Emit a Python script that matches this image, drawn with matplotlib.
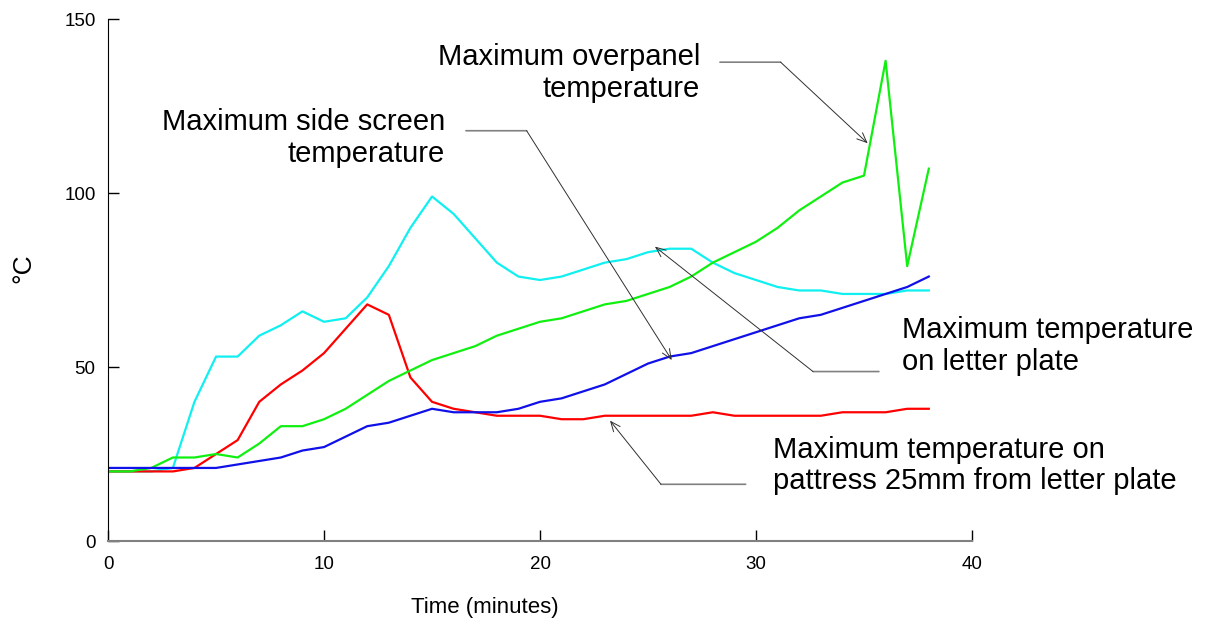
import matplotlib
matplotlib.use("Agg")
import matplotlib.pyplot as plt

plt.rcParams["font.family"] = ["Liberation Sans", "DejaVu Sans"]

minutes = list(range(39))

side_screen = [20, 20, 20, 21, 40, 53, 53, 59, 62, 66, 63, 64, 70, 79, 90,
               99, 94, 87, 80, 76, 75, 76, 78, 80, 81, 83, 84, 84, 80, 77,
               75, 73, 72, 72, 71, 71, 71, 72, 72]
pattress = [20, 20, 20, 20, 21, 25, 29, 40, 45, 49, 54, 61, 68, 65, 47,
            40, 38, 37, 36, 36, 36, 35, 35, 36, 36, 36, 36, 36, 37, 36,
            36, 36, 36, 36, 37, 37, 37, 38, 38]
overpanel = [20, 20, 21, 24, 24, 25, 24, 28, 33, 33, 35, 38, 42, 46, 49,
             52, 54, 56, 59, 61, 63, 64, 66, 68, 69, 71, 73, 76, 80, 83,
             86, 90, 95, 99, 103, 105, 138, 79, 107]
letter_plate = [21, 21, 21, 21, 21, 21, 22, 23, 24, 26, 27, 30, 33, 34, 36,
                38, 37, 37, 37, 38, 40, 41, 43, 45, 48, 51, 53, 54, 56, 58,
                60, 62, 64, 65, 67, 69, 71, 73, 76]

x_ticks = [0, 10, 20, 30, 40]
y_ticks = [0, 50, 100, 150]

# label text, text anchor, alignment, line start, corner, arrow tip
labels = [
    ("Maximum overpanel\ntemperature", (27.41, 134.5), "right",
     (28.33, 137.6), (31.14, 137.6), (35.17, 114.3)),
    ("Maximum side screen\ntemperature", (15.6, 115.8), "right",
     (16.57, 117.9), (19.38, 117.9), (26.1, 52.0)),
    ("Maximum temperature\non letter plate", (36.76, 56.0), "left",
     (35.69, 48.7), (32.64, 48.7), (25.32, 84.6)),
    ("Maximum temperature on\npattress 25mm from letter plate", (30.79, 21.8),
     "left", (29.52, 16.3), (25.6, 16.3), (23.24, 34.6)),
]


def main():
    fig = plt.figure(figsize=(12.1, 6.28), dpi=100)
    ax = fig.add_axes([0.0893, 0.1385, 0.714, 0.8312])

    ax.plot(minutes, side_screen, color="#10f0f0", lw=1.6)
    ax.plot(minutes, pattress, color="#ff0000", lw=1.6)
    ax.plot(minutes, overpanel, color="#10f010", lw=1.6)
    ax.plot(minutes, letter_plate, color="#1010e8", lw=1.6)

    for text, pos, ha, start, corner, tip in labels:
        ax.text(pos[0], pos[1], text, ha=ha, va="center", fontsize=21,
                multialignment=ha, linespacing=1.15)
        ax.annotate("", xy=corner, xytext=start,
                    arrowprops=dict(arrowstyle="-", color="#808080", lw=1.2,
                                    shrinkA=0, shrinkB=0))
        ax.annotate("", xy=tip, xytext=corner,
                    arrowprops=dict(arrowstyle="->,head_length=0.7,head_width=0.3",
                                    color="#303030", lw=0.7,
                                    shrinkA=0, shrinkB=0))

    ax.set_xlim(0, 40)
    ax.set_ylim(0, 150)
    ax.set_xticks(x_ticks)
    ax.set_yticks(y_ticks)
    ax.tick_params(direction="in", length=8, width=1, labelsize=13.5)
    ax.tick_params(axis="x", pad=11)
    ax.tick_params(axis="y", pad=9)
    for side in ["top", "right"]:
        ax.spines[side].set_visible(False)
    ax.spines["left"].set_color("black")
    ax.spines["bottom"].set_color("#808080")
    ax.spines["bottom"].set_linewidth(1.5)

    ax.set_xlabel("Time (minutes)", fontsize=16)
    ax.xaxis.set_label_coords(0.436, -0.108)
    ax.set_ylabel("°C", fontsize=19)
    ax.yaxis.set_label_coords(-0.084, 0.523)

    fig.savefig("out.png", dpi=100)


if __name__ == "__main__":
    main()
